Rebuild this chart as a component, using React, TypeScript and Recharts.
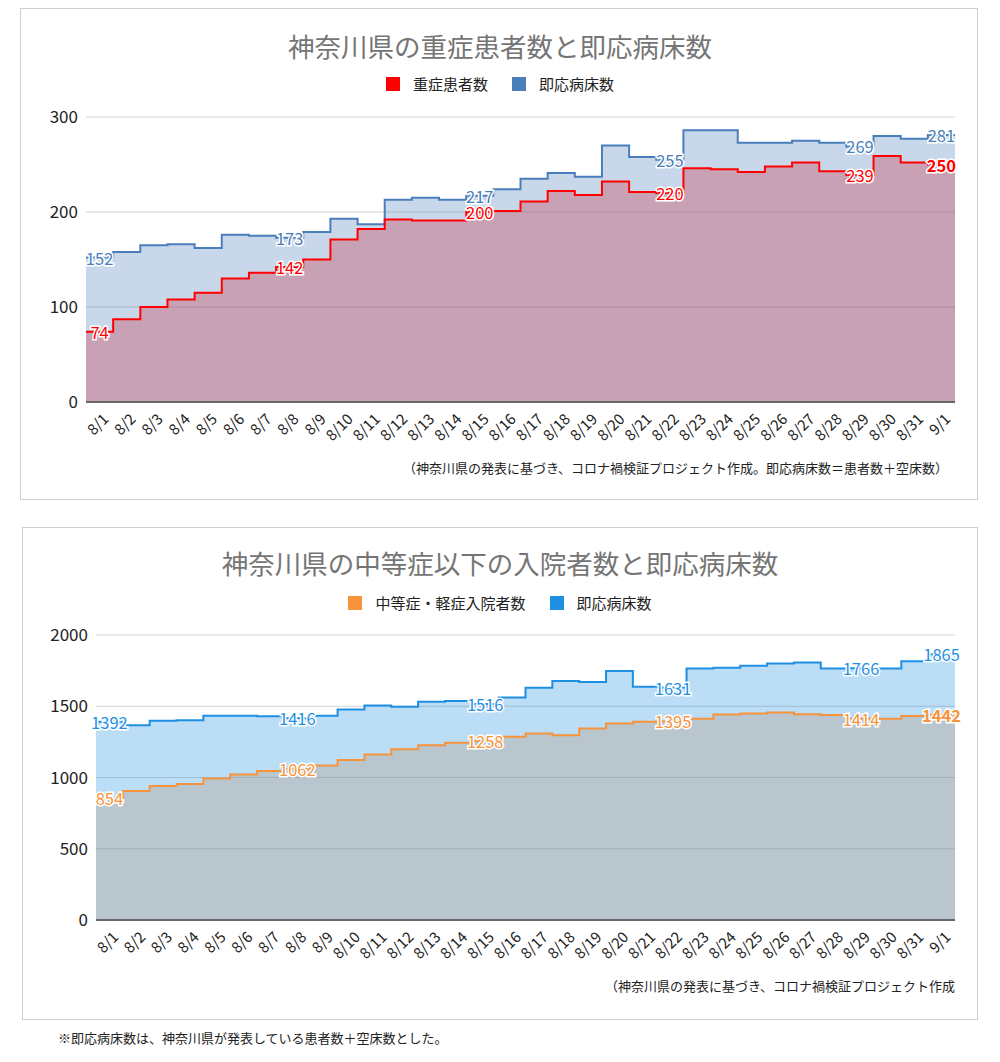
import React from "react"
import { Area, CartesianGrid, ComposedChart, LabelList, Line, XAxis, YAxis } from "recharts"

const FONT = '"Noto Sans CJK JP", "Noto Sans", sans-serif'

const dates = [
  "8/1", "8/2", "8/3", "8/4", "8/5", "8/6", "8/7", "8/8", "8/9", "8/10", "8/11",
  "8/12", "8/13", "8/14", "8/15", "8/16", "8/17", "8/18", "8/19", "8/20", "8/21", "8/22",
  "8/23", "8/24", "8/25", "8/26", "8/27", "8/28", "8/29", "8/30", "8/31", "9/1",
]

// 重症患者数 / 即応病床数（重症）
const severe = [74, 87, 100, 108, 115, 130, 136, 142, 150, 171, 182, 192, 191, 191, 200, 201, 211, 222, 218, 232, 221, 220, 246, 245, 242, 248, 252, 243, 239, 259, 252, 250]
const severeBeds = [152, 158, 165, 166, 162, 176, 175, 173, 179, 193, 187, 213, 215, 213, 217, 224, 235, 241, 237, 270, 258, 255, 286, 286, 273, 273, 275, 273, 269, 280, 277, 281]

// 中等症・軽症入院者数 / 即応病床数（中等症以下）
const moderate = [854, 905, 940, 954, 993, 1021, 1045, 1062, 1085, 1122, 1162, 1199, 1227, 1244, 1258, 1286, 1309, 1297, 1344, 1379, 1391, 1395, 1412, 1442, 1449, 1456, 1444, 1438, 1414, 1412, 1431, 1442]
const moderateBeds = [1392, 1367, 1398, 1402, 1433, 1433, 1430, 1416, 1433, 1477, 1505, 1496, 1531, 1536, 1516, 1562, 1629, 1678, 1671, 1748, 1636, 1631, 1765, 1770, 1784, 1800, 1807, 1765, 1766, 1765, 1816, 1865]

const ticks1 = [0, 100, 200, 300]
const ticks2 = [0, 500, 1000, 1500, 2000]
const labelled = [0, 7, 14, 21, 28, 31]

const RED = "#ff0000"
const BLUE1 = "#4a7ebb"
const ORANGE = "#f8933c"
const BLUE2 = "#1f8fe2"

// stepAfter needs one closing point so the last day gets its full width
function buildRows(a: number[], b: number[]) {
  const rows = dates.map((_, i) => ({ x: i, a: a[i], b: b[i] }))
  const last = dates.length - 1
  rows.push({ x: dates.length, a: a[last], b: b[last] })
  return rows
}

const rows1 = buildRows(severe, severeBeds)
const rows2 = buildRows(moderate, moderateBeds)
const xTicks = dates.map((_, i) => i + 0.5)

function DateTick(props: any) {
  const { x, y, payload } = props
  const bx = x + 10
  const by = y + 10
  return (
    <text x={bx} y={by} transform={`rotate(-45 ${bx} ${by})`} textAnchor="end" fontSize={15} fill="#222" fontFamily={FONT}>
      {dates[Math.floor(payload.value)]}
    </text>
  )
}

const makeLabel = (color: string, boldLast: boolean, half: number) => (props: any) => {
  const { x, y, value, index } = props
  if (!labelled.includes(index)) return null
  const bold = boldLast && index === dates.length - 1
  return (
    <text
      x={x + half}
      y={y}
      textAnchor="middle"
      dominantBaseline="central"
      fill={color}
      stroke="#fff"
      strokeWidth={3}
      paintOrder="stroke"
      fontSize={16.5}
      fontWeight={bold ? 700 : 400}
      fontFamily={FONT}
    >
      {value}
    </text>
  )
}

function Legend({ items, top }: { items: { name: string; color: string }[]; top: number }) {
  return (
    <div style={{ position: "absolute", left: 0, width: 1000, top, display: "flex", justifyContent: "center", gap: 24, fontFamily: FONT, fontSize: 15, color: "#222" }}>
      {items.map((it) => (
        <div key={it.name} style={{ display: "flex", alignItems: "center", gap: 13 }}>
          <span style={{ width: 14, height: 14, background: it.color, display: "inline-block" }} />
          <span>{it.name}</span>
        </div>
      ))}
    </div>
  )
}

function StepChart(props: {
  rows: any[]
  max: number
  ticks: number[]
  colorA: string
  colorB: string
  width: number
  height: number
  margin: any
  half: number
}) {
  const { rows, max, ticks, colorA, colorB, width, height, margin, half } = props
  return (
    <ComposedChart width={width} height={height} data={rows} margin={margin}>
      <CartesianGrid vertical={false} stroke="#d2d2d2" />
      <XAxis
        dataKey="x"
        type="number"
        domain={[0, dates.length]}
        ticks={xTicks}
        interval={0}
        tick={<DateTick />}
        tickLine={false}
        axisLine={{ stroke: "#666", strokeWidth: 2 }}
        height={30}
      />
      <YAxis
        domain={[0, max]}
        ticks={ticks}
        width={50}
        axisLine={false}
        tickLine={false}
        tick={{ fontSize: 17, fill: "#222", fontFamily: FONT }}
      />
      <Area dataKey="a" type="stepAfter" stroke="none" fill={colorA} fillOpacity={0.3} isAnimationActive={false} />
      <Area dataKey="b" type="stepAfter" stroke="none" fill={colorB} fillOpacity={0.3} isAnimationActive={false} />
      <Line dataKey="b" type="stepAfter" stroke={colorB} strokeWidth={2} dot={false} activeDot={false} isAnimationActive={false}>
        <LabelList dataKey="b" content={makeLabel(colorB, false, half)} />
      </Line>
      <Line dataKey="a" type="stepAfter" stroke={colorA} strokeWidth={2} dot={false} activeDot={false} isAnimationActive={false}>
        <LabelList dataKey="a" content={makeLabel(colorA, true, half)} />
      </Line>
    </ComposedChart>
  )
}

export default function App() {
  return (
    <div style={{ position: "absolute", left: 0, top: 0, width: 1000, height: 1062, background: "#fff", fontFamily: FONT }}>
      {/* card 1 */}
      <div style={{ position: "absolute", left: 20, top: 8, width: 958, height: 492, border: "1px solid #cfcfcf", boxSizing: "border-box" }} />
      <div style={{ position: "absolute", left: 0, width: 1000, top: 26, textAlign: "center", fontSize: 26.5, color: "#757575" }}>
        神奈川県の重症患者数と即応病床数
      </div>
      <Legend top={73} items={[{ name: "重症患者数", color: RED }, { name: "即応病床数", color: BLUE1 }]} />
      <div style={{ position: "absolute", left: 20, top: 8 }}>
        <StepChart
          rows={rows1}
          max={300}
          ticks={ticks1}
          colorA={RED}
          colorB={BLUE1}
          width={958}
          height={492}
          margin={{ top: 109, right: 23, bottom: 68, left: 16 }}
          half={13.6}
        />
      </div>
      <div style={{ position: "absolute", right: 52, top: 458, fontSize: 13, color: "#222" }}>
        （神奈川県の発表に基づき、コロナ禍検証プロジェクト作成。即応病床数＝患者数＋空床数）
      </div>

      {/* card 2 */}
      <div style={{ position: "absolute", left: 22, top: 527, width: 956, height: 493, border: "1px solid #cfcfcf", boxSizing: "border-box" }} />
      <div style={{ position: "absolute", left: 0, width: 1000, top: 543, textAlign: "center", fontSize: 26.5, color: "#757575" }}>
        神奈川県の中等症以下の入院者数と即応病床数
      </div>
      <Legend top={592} items={[{ name: "中等症・軽症入院者数", color: ORANGE }, { name: "即応病床数", color: BLUE2 }]} />
      <div style={{ position: "absolute", left: 22, top: 527 }}>
        <StepChart
          rows={rows2}
          max={2000}
          ticks={ticks2}
          colorA={ORANGE}
          colorB={BLUE2}
          width={956}
          height={493}
          margin={{ top: 108, right: 23, bottom: 70, left: 24 }}
          half={13.4}
        />
      </div>
      <div style={{ position: "absolute", right: 45, top: 976, fontSize: 13, color: "#222" }}>
        （神奈川県の発表に基づき、コロナ禍検証プロジェクト作成
      </div>
      <div style={{ position: "absolute", left: 58, top: 1028, fontSize: 13, color: "#222" }}>
        ※即応病床数は、神奈川県が発表している患者数＋空床数とした。
      </div>
    </div>
  )
}
